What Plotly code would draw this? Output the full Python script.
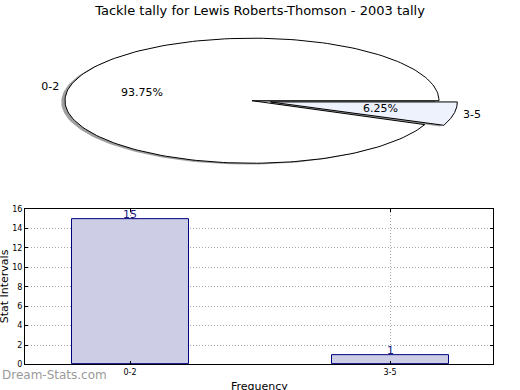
import numpy as np
import plotly.graph_objects as go

title = "Tackle tally for Lewis Roberts-Thomson - 2003 tally"
categories = ["0-2", "3-5"]
counts = [15, 1]
pie_colors = ["#ffffff", "#eef2fd"]
explode = [0.0, 0.1]
y_ticks = [0, 2, 4, 6, 8, 10, 12, 14, 16]

FONT = "DejaVu Sans"
fig = go.Figure()

total = float(sum(counts))
fracs = [c / total for c in counts]

# build wedges (unit circle stretched into ellipse by axis scaling)
wedges = []
start = 0.0
for frac, exp in zip(fracs, explode):
    t1, t2 = start, start + 360.0 * frac
    mid = np.deg2rad((t1 + t2) / 2)
    cx, cy = exp * np.cos(mid), exp * np.sin(mid)
    th = np.deg2rad(np.linspace(t1, t2, 200))
    xs = np.concatenate([[cx], cx + np.cos(th), [cx]])
    ys = np.concatenate([[cy], cy + np.sin(th), [cy]])
    wedges.append((xs, ys, mid, exp))
    start = t2

# shadows
for xs, ys, mid, exp in wedges:
    fig.add_trace(go.Scatter(x=xs - 0.02, y=ys - 0.02, mode="lines", fill="toself",
                             fillcolor="rgba(80,80,80,0.55)", line=dict(width=0),
                             hoverinfo="skip", showlegend=False, xaxis="x", yaxis="y"))
# slices
for (xs, ys, mid, exp), col in zip(wedges, pie_colors):
    fig.add_trace(go.Scatter(x=xs, y=ys, mode="lines", fill="toself",
                             fillcolor=col, line=dict(color="black", width=1),
                             hoverinfo="skip", showlegend=False, xaxis="x", yaxis="y"))
# labels
lx, ly, px, py, pt = [], [], [], [], []
for (xs, ys, mid, exp), cat, frac in zip(wedges, categories, fracs):
    lx.append((1.1 + exp) * np.cos(mid)); ly.append((1.1 + exp) * np.sin(mid))
    px.append((0.6 + exp) * np.cos(mid)); py.append((0.6 + exp) * np.sin(mid))
    pt.append(f"{frac*100:.2f}%")
fig.add_trace(go.Scatter(x=lx, y=ly, mode="text", text=categories,
                         textfont=dict(family=FONT, size=11, color="black"),
                         hoverinfo="skip", showlegend=False, xaxis="x", yaxis="y"))
fig.add_trace(go.Scatter(x=px, y=py, mode="text", text=pt,
                         textfont=dict(family=FONT, size=11, color="black"),
                         hoverinfo="skip", showlegend=False, xaxis="x", yaxis="y"))

# bar chart
fig.add_trace(go.Bar(x=categories, y=counts, width=0.45,
                     marker=dict(color="#cdcde5", line=dict(color="#000080", width=1)),
                     hoverinfo="skip", showlegend=False, xaxis="x2", yaxis="y2"))
for cat, c in zip(categories, counts):
    fig.add_annotation(text=str(c), x=cat, y=c, xref="x2", yref="y2", showarrow=False,
                       xanchor="center", yanchor="middle", yshift=4,
                       font=dict(family=FONT, size=11, color="#1a1a80"))

W, H = 520, 390
rx, ry = 187.0, 64.0
pcx, pcy = 252.0, 99.0

grid_dash = "1px,2px"
fig.update_layout(
    width=W, height=H, autosize=False,
    margin=dict(l=0, r=0, t=0, b=0),
    paper_bgcolor="white", plot_bgcolor="white",
    font=dict(family=FONT, color="black"),
    title=dict(text=title, x=0.5, xanchor="center", y=1 - 10 / H, yanchor="middle",
               font=dict(family=FONT, size=13, color="black")),
    xaxis=dict(domain=[0, 1], range=[-pcx / rx, (W - pcx) / rx], visible=False,
               fixedrange=True),
    yaxis=dict(domain=[0.5, 1], range=[-(195 - pcy) / ry, pcy / ry], visible=False,
               fixedrange=True),
    xaxis2=dict(domain=[25 / W, 493 / W], anchor="y2", type="category",
                range=[-0.404, 1.396], showline=True, mirror="ticks", linecolor="black",
                linewidth=1, ticks="inside", ticklen=3, tickcolor="black",
                tickfont=dict(family=FONT, size=8), showgrid=True, gridcolor="#a8a8a8",
                griddash=grid_dash, gridwidth=1, zeroline=False, fixedrange=True),
    yaxis2=dict(domain=[1 - 369 / H, 1 - 210 / H], anchor="x2", range=[0, 16],
                tickvals=y_ticks, showline=True, mirror="ticks", linecolor="black",
                linewidth=1, ticks="inside", ticklen=3, tickcolor="black",
                tickfont=dict(family=FONT, size=8), showgrid=True, gridcolor="#a8a8a8",
                griddash=grid_dash, gridwidth=1, zeroline=False, fixedrange=True),
    bargap=0,
)

fig.add_annotation(text="Stat Intervals", x=4 / W, y=1 - 289 / H, xref="paper", yref="paper",
                   textangle=-90, showarrow=False, xanchor="center", yanchor="middle",
                   font=dict(family=FONT, size=11, color="black"))
fig.add_annotation(text="Frequency", x=259 / W, y=1 - 383 / H, xref="paper", yref="paper",
                   showarrow=False, xanchor="center", yanchor="top",
                   font=dict(family=FONT, size=11, color="black"))
fig.add_annotation(text="Dream-Stats.com", x=0, y=1 - 380 / H, xref="paper",
                   yref="paper", showarrow=False, xanchor="left", yanchor="middle",
                   font=dict(family=FONT, size=12, color="#9a9a9a"))

fig.write_html("out.html",
               config={"displayModeBar": False, "responsive": False},
               post_script="document.body.style.margin='0';document.body.style.padding='0';")
